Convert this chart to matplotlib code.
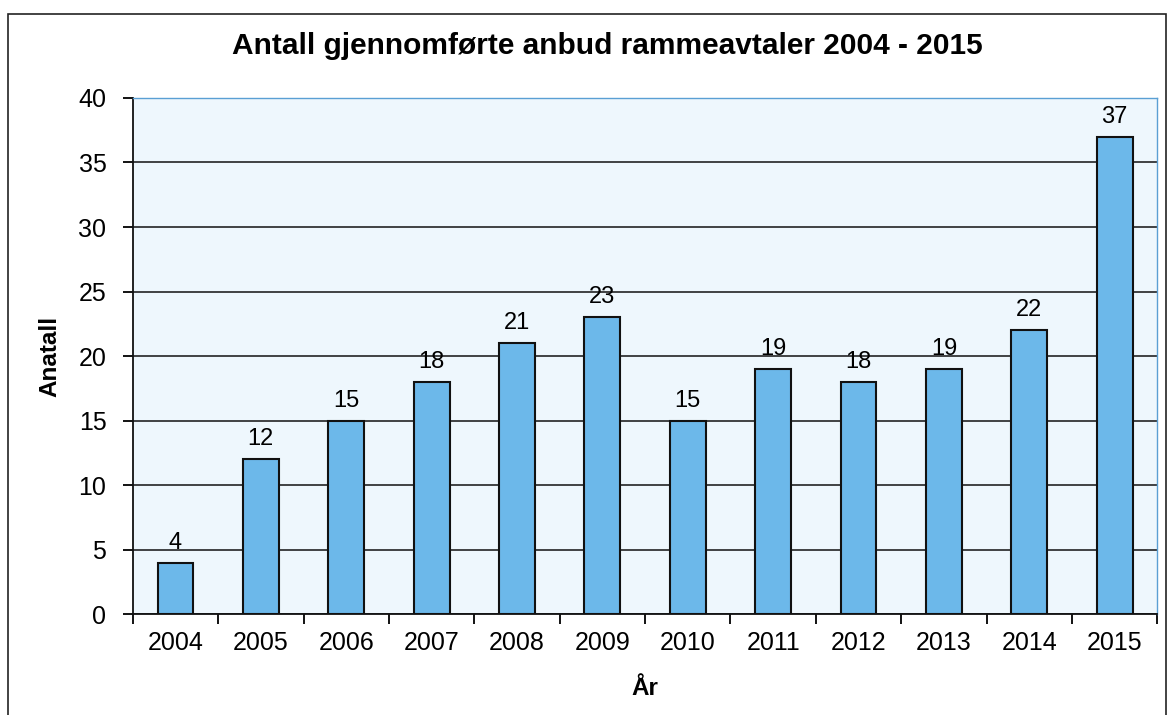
import numpy as np
import matplotlib.pyplot as plt
from matplotlib.patches import Rectangle

plt.rcParams['font.family'] = ['Liberation Sans', 'DejaVu Sans']

years = ['2004', '2005', '2006', '2007', '2008', '2009', '2010', '2011', '2012', '2013', '2014', '2015']
counts = [4, 12, 15, 18, 21, 23, 15, 19, 18, 19, 22, 37]

fig = plt.figure(figsize=(11.75, 7.15), dpi=100)
ax = fig.add_axes([0.113, 0.141, 0.872, 0.722])

# outer frame of the chart object
fig.patches.append(Rectangle((0.007, -0.05), 0.985, 1.03, transform=fig.transFigure,
                             fill=False, edgecolor='#222222', linewidth=1.2))

x = np.arange(len(years))
ax.set_facecolor('#eef7fd')
ax.set_axisbelow(True)
ax.yaxis.grid(True, color='#111111', linewidth=1.1)
bars = ax.bar(x, counts, width=0.42, color='#6cb8ea', edgecolor='#111111', linewidth=1.5)
for xi, c in zip(x, counts):
    ax.text(xi, c + 0.7, str(c), ha='center', va='bottom', fontsize=17)

ax.set_xlim(-0.5, len(years) - 0.5)
ax.set_ylim(0, 40)
ax.set_yticks(range(0, 41, 5))
ax.set_xticks(x)
ax.set_xticklabels(years)
ax.set_xticks(np.arange(-0.5, len(years), 1), minor=True)
ax.tick_params(axis='x', which='major', length=0, labelsize=18, pad=12)
ax.tick_params(axis='x', which='minor', length=7, width=1.3, direction='out')
ax.tick_params(axis='y', length=7, width=1.3, labelsize=18, pad=12)

for s in ['left', 'bottom']:
    ax.spines[s].set_color('#111111')
    ax.spines[s].set_linewidth(1.3)
for s in ['top', 'right']:
    ax.spines[s].set_color('#5a9fd4')
    ax.spines[s].set_linewidth(1.0)

fig.text(0.517, 0.935, 'Antall gjennomførte anbud rammeavtaler 2004 - 2015', fontsize=21.5,
         fontweight='bold', ha='center', va='center')
ax.set_ylabel('Anatall', fontsize=17.5, fontweight='bold', labelpad=12)
ax.set_xlabel('År', fontsize=17.5, fontweight='bold', labelpad=16)

fig.savefig('out.png', dpi=100)
